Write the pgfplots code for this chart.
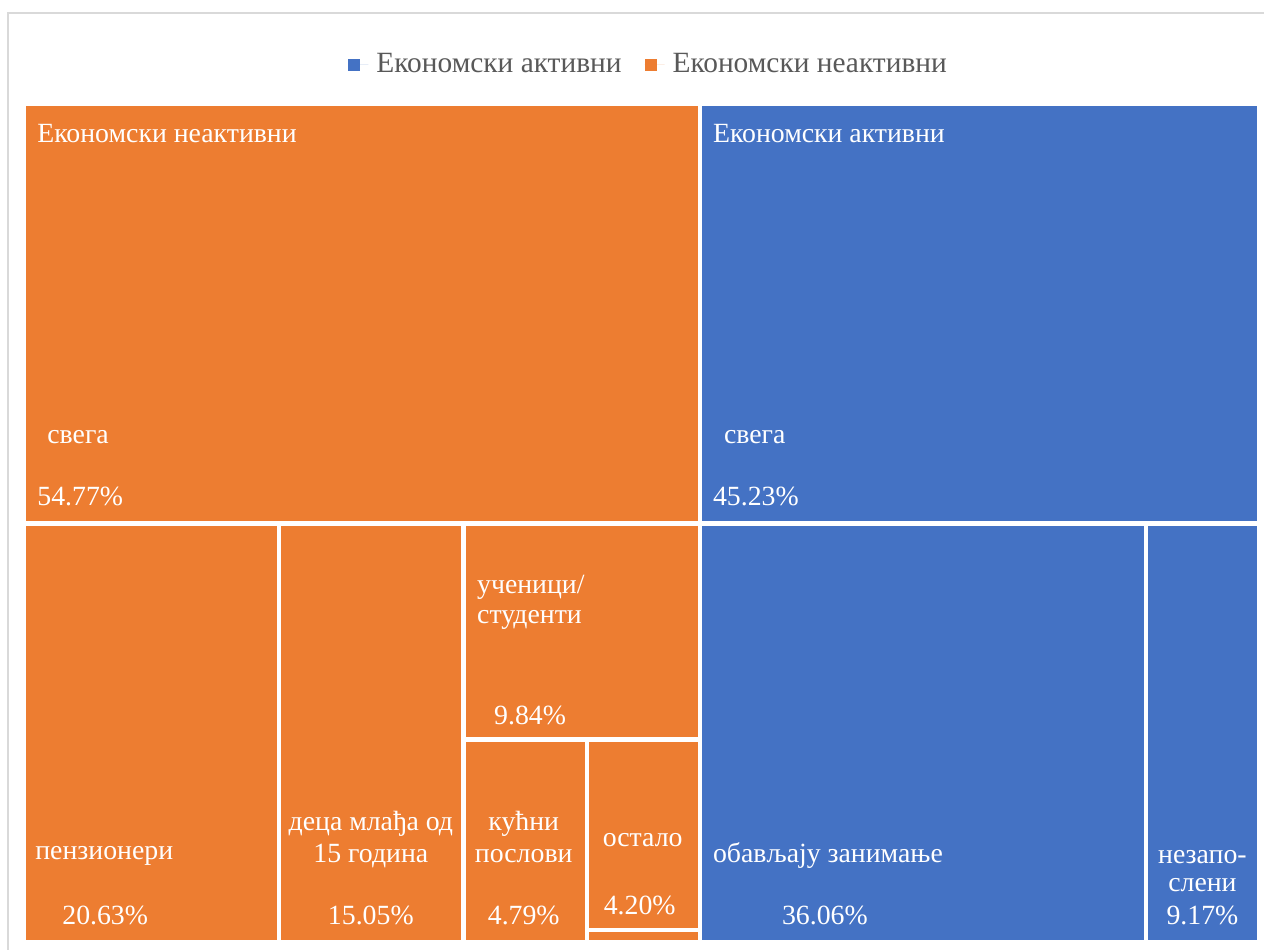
\documentclass[border=0pt]{standalone}
\usepackage{fontspec}
\setmainfont{Liberation Serif}
\usepackage{pgfplots}
\pgfplotsset{compat=1.18}
\definecolor{oor}{HTML}{ED7D31}
\definecolor{obl}{HTML}{4472C4}
\definecolor{lgray}{HTML}{595959}
\definecolor{frame}{HTML}{D9D9D9}
\tikzset{lbl/.style={text=white, font=\fontsize{13.9}{16}\selectfont, inner sep=0pt}}
\begin{document}
\begin{tikzpicture}
\begin{axis}[
  scale only axis, width=632.5pt, height=475pt,
  xmin=0, xmax=1265, ymin=0, ymax=950, y dir=reverse,
  hide axis, clip=false,
  legend style={at={(0.5138,0.932)}, anchor=center, draw=none, fill=none,
    font=\fontsize{14.7}{17}\selectfont, text=lgray,
    /tikz/every odd column/.append style={column sep=2pt},
    /tikz/every even column/.append style={column sep=9.5pt}},
  legend columns=2,
  legend image code/.code={\fill[#1] (0pt,-3pt) rectangle (6pt,3pt); \path (0pt,0pt) -- (10pt,0pt);},
]
\fill[white] (axis cs:0,0) rectangle (axis cs:1265,950);
\draw[frame, line width=0.6pt] (axis cs:8,950) -- (axis cs:8,13) -- (axis cs:1265,13);
\addlegendimage{fill=obl, draw=none}
\addlegendentry{Економски активни}
\addlegendimage{fill=oor, draw=none}
\addlegendentry{Економски неактивни}
% rectangles
\addplot[fill=oor, draw=none, forget plot] coordinates {(26,106)(698,106)(698,521)(26,521)} --cycle;
\addplot[fill=obl, draw=none, forget plot] coordinates {(702,106)(1258,106)(1258,521)(702,521)} --cycle;
\addplot[fill=oor, draw=none, forget plot] coordinates {(26,526)(277,526)(277,940)(26,940)} --cycle;
\addplot[fill=oor, draw=none, forget plot] coordinates {(281,526)(461,526)(461,940)(281,940)} --cycle;
\addplot[fill=oor, draw=none, forget plot] coordinates {(466,526)(698,526)(698,737)(466,737)} --cycle;
\addplot[fill=oor, draw=none, forget plot] coordinates {(466,742)(585,742)(585,940)(466,940)} --cycle;
\addplot[fill=oor, draw=none, forget plot] coordinates {(589,742)(698,742)(698,928)(589,928)} --cycle;
\addplot[fill=oor, draw=none, forget plot] coordinates {(589,932)(698,932)(698,940)(589,940)} --cycle;
\addplot[fill=obl, draw=none, forget plot] coordinates {(702,526)(1145,526)(1145,940)(702,940)} --cycle;
\addplot[fill=obl, draw=none, forget plot] coordinates {(1149,526)(1258,526)(1258,940)(1149,940)} --cycle;
% labels
\node[lbl, anchor=west] at (axis cs:37,134) {Економски неактивни};
\node[lbl, anchor=west] at (axis cs:47,437) {свега};
\node[lbl, anchor=west] at (axis cs:37,497) {54.77\%};
\node[lbl, anchor=west] at (axis cs:713,134) {Економски активни};
\node[lbl, anchor=west] at (axis cs:724,437) {свега};
\node[lbl, anchor=west] at (axis cs:713,497) {45.23\%};
\node[lbl, anchor=base west] at (axis cs:477,594) {ученици/};
\node[lbl, anchor=base west] at (axis cs:477,624) {студенти};
\node[lbl, anchor=west] at (axis cs:494,716) {9.84\%};
\node[lbl, anchor=west] at (axis cs:35,856) {пензионери};
\node[lbl, anchor=west] at (axis cs:62,916) {20.63\%};
\node[lbl] at (axis cs:371,824) {деца млађа од};
\node[lbl] at (axis cs:371,856) {15 година};
\node[lbl] at (axis cs:371,916) {15.05\%};
\node[lbl] at (axis cs:524,824) {кућни};
\node[lbl] at (axis cs:524,856) {послови};
\node[lbl] at (axis cs:524,916) {4.79\%};
\node[lbl] at (axis cs:643,840) {остало};
\node[lbl] at (axis cs:640,906) {4.20\%};
\node[lbl, anchor=west] at (axis cs:713,856) {обављају занимање};
\node[lbl, anchor=west] at (axis cs:782,916) {36.06\%};
\node[lbl] at (axis cs:1203,857) {незапо-};
\node[lbl] at (axis cs:1203,886) {слени};
\node[lbl] at (axis cs:1203,916) {9.17\%};
\end{axis}
\end{tikzpicture}
\end{document}
